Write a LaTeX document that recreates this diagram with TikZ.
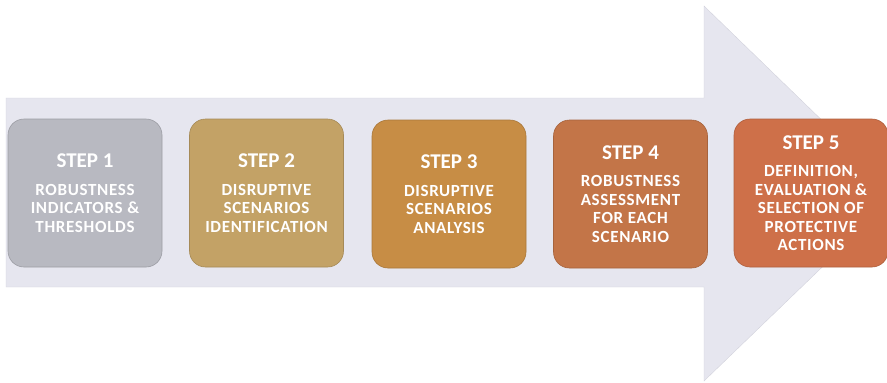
\documentclass[tikz,border=0pt]{standalone}
\usepackage{fontspec}
\setmainfont{Carlito}
\newfontfamily\stepfont{Carlito}[LetterSpace=4]
\usepackage{tikz}

\definecolor{arrowfill}{HTML}{E6E6EF}
\definecolor{arrowline}{HTML}{D2D2DC}
\definecolor{stepgray}{HTML}{B8B9C1}
\definecolor{steptan}{HTML}{C3A266}
\definecolor{stepochre}{HTML}{C78D45}
\definecolor{steprust}{HTML}{C37548}
\definecolor{stepred}{HTML}{CE7049}

\begin{document}
\begin{tikzpicture}[x=1pt,y=-1pt,
  stepbox/.style={rounded corners=16pt, minimum width=154pt, minimum height=148pt,
    inner sep=2pt, align=center, text=white, line width=0.6pt,
    font=\stepfont\bfseries\fontsize{17}{18.5}\selectfont, draw=#1!85!black, fill=#1}]
\useasboundingbox (0,0) rectangle (887,383);
\clip (0,0) rectangle (887,383);
% the big arrow behind the steps
\filldraw [draw=arrowline, fill=arrowfill] (6,98) -- (704,98) -- (704,6) -- (898,194) -- (704,381) -- (704,287) -- (6,287) -- cycle;
%
\node[stepbox=stepgray] (S1) at (85,193) {{\rmfamily\fontsize{21}{21}\selectfont STEP 1}\\[9pt] ROBUSTNESS\\ INDICATORS \&\\ THRESHOLDS};
\node[stepbox=steptan] (S2) at (266.5,193) {{\rmfamily\fontsize{21}{21}\selectfont STEP 2}\\[9pt] DISRUPTIVE\\ SCENARIOS\\ IDENTIFICATION};
\node[stepbox=stepochre] (S3) at (449,194) {{\rmfamily\fontsize{21}{21}\selectfont STEP 3}\\[9pt] DISRUPTIVE\\ SCENARIOS\\ ANALYSIS};
\node[stepbox=steprust] (S4) at (630.5,194) {{\rmfamily\fontsize{21}{21}\selectfont STEP 4}\\[9pt] ROBUSTNESS\\ ASSESSMENT\\ FOR EACH\\ SCENARIO};
\node[stepbox=stepred] (S5) at (811,193) {{\rmfamily\fontsize{21}{21}\selectfont STEP 5}\\[9pt] DEFINITION,\\ EVALUATION \&\\ SELECTION OF\\ PROTECTIVE\\ ACTIONS};
\end{tikzpicture}
\end{document}
